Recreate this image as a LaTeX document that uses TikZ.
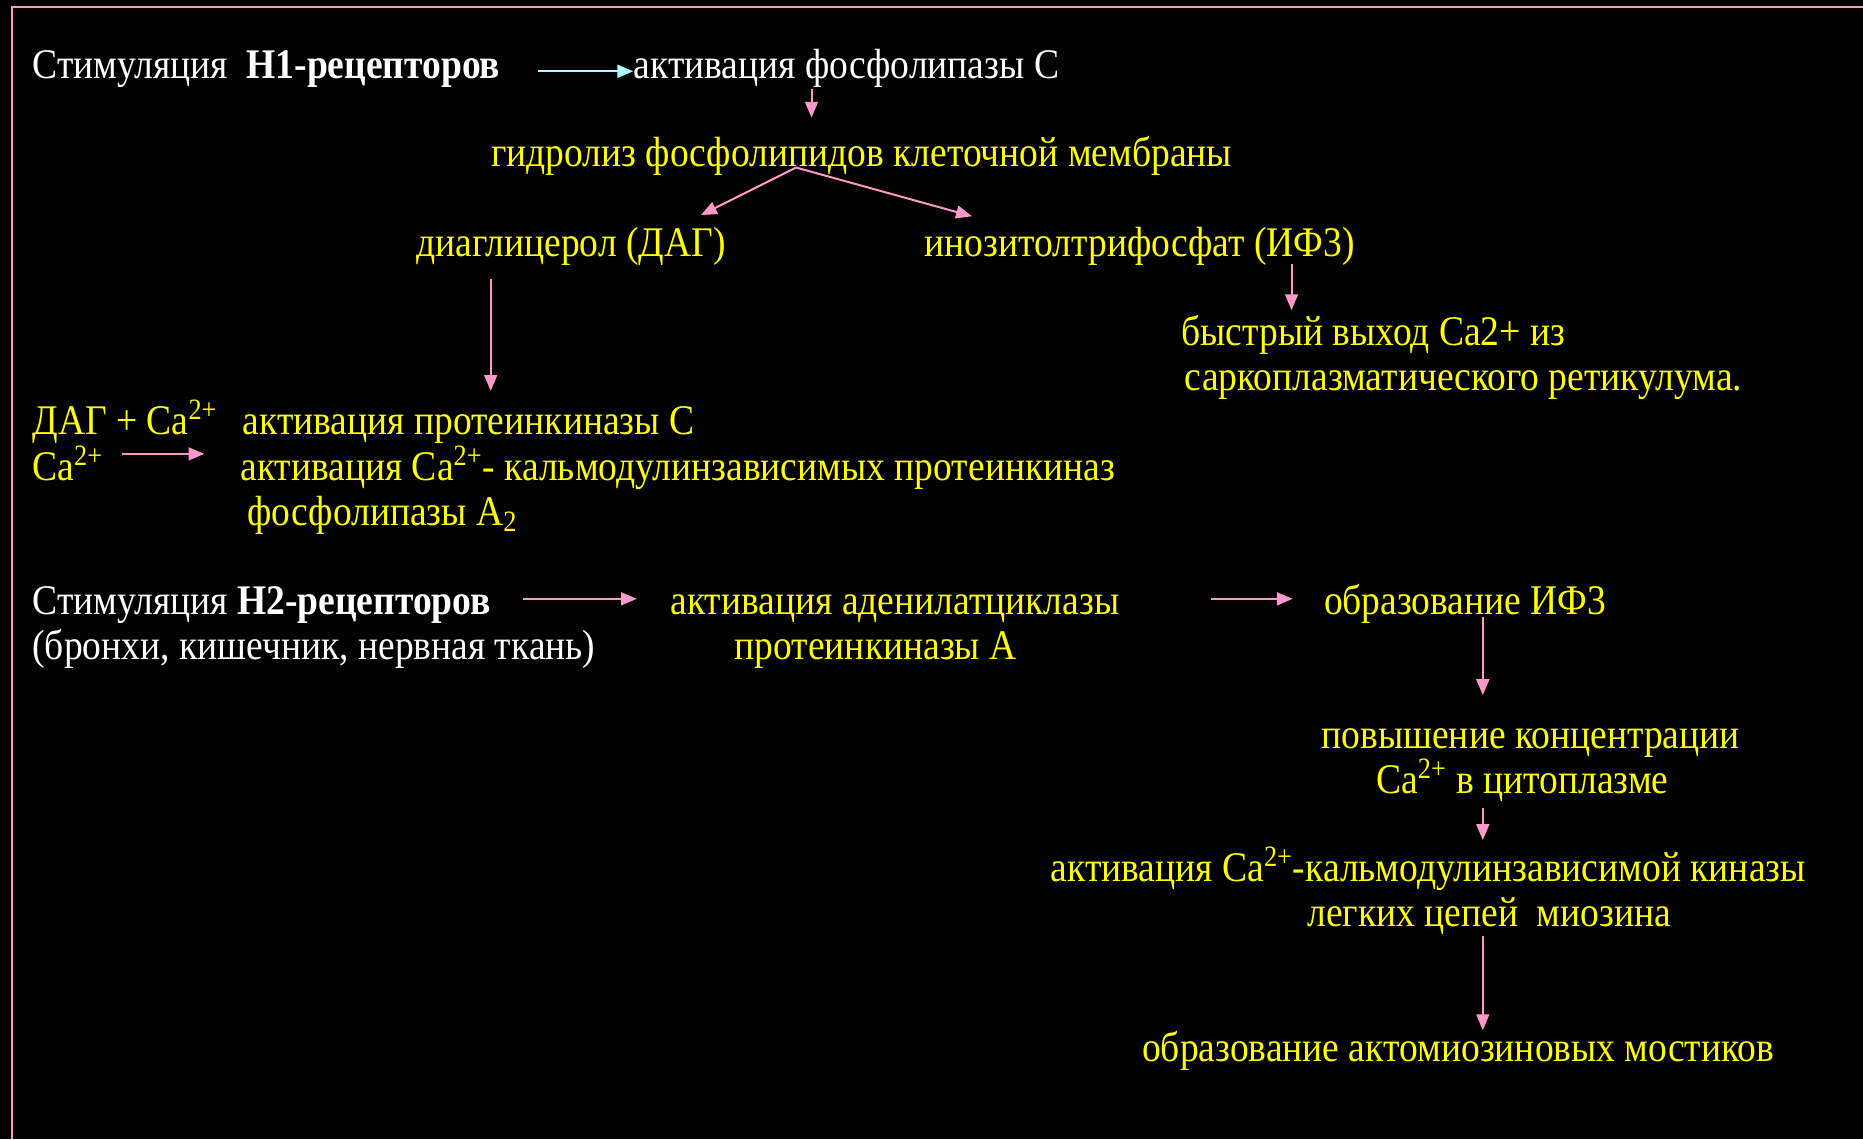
\documentclass[tikz,border=0pt]{standalone}
\usepackage{fontspec}
\setmainfont[FakeStretch=0.89]{Liberation Serif}
\usetikzlibrary{arrows.meta}
\definecolor{pinkc}{HTML}{FF99CC}
\definecolor{cyanc}{HTML}{A8FFFF}
\definecolor{yel}{HTML}{FFFF00}
\begin{document}
\begin{tikzpicture}[x=0.6pt,y=-0.6pt,
  txt/.style={inner sep=0pt, font=\fontsize{21.3}{23}\selectfont, anchor=base west},
  ytxt/.style={txt, text=yel},
  wtxt/.style={txt, text=white},
  arr/.style={draw=pinkc, line width=1pt, -{Triangle[length=8pt,width=6.5pt,fill=pinkc]}},
  carr/.style={draw=cyanc, line width=1pt, -{Triangle[length=8pt,width=6.5pt,fill=cyanc]}}]
\fill[black] (0,0) rectangle (1568,959);
\useasboundingbox (0,0) rectangle (1568,959);
\draw[pinkc, line width=1.2pt] (10,959) -- (10,6) -- (1568,6);

\node[wtxt] (s1) at (27,66) {Стимуляция\ \ \textbf{Н1-рецепторов}};
\node[wtxt] (a1) at (533,66) {активация фосфолипазы С};
\node[ytxt] (g) at (413,140) {гидролиз фосфолипидов клеточной мембраны};
\node[ytxt] (dag) at (350,216) {диаглицерол (ДАГ)};
\node[ytxt] (ip3) at (778,216) {инозитолтрифосфат (ИФ3)};
\node[ytxt] (ca1) at (994,291) {быстрый выход Ca2+ из};
\node[ytxt] (ca2) at (997,329) {саркоплазматического ретикулума.};
\node[ytxt] (dc) at (27,366) {ДАГ + Ca\textsuperscript{2+}};
\node[ytxt] (pkc) at (204,366) {активация протеинкиназы С};
\node[ytxt] (ca) at (27,404) {Ca\textsuperscript{2+}};
\node[ytxt] (cam) at (202,404) {активация Ca\textsuperscript{2+}- кальмодулинзависимых протеинкиназ};
\node[ytxt] (pla) at (208,442) {фосфолипазы А\textsubscript{2}};
\node[wtxt] (s2) at (27,517) {Стимуляция \textbf{Н2-рецепторов}};
\node[wtxt] (s2b) at (27,555) {(бронхи, кишечник, нервная ткань)};
\node[ytxt] (ac) at (564,517) {активация аденилатциклазы};
\node[ytxt] (pka) at (618,555) {протеинкиназы А};
\node[ytxt] (if) at (1114,517) {образование ИФ3};
\node[ytxt] (pc1) at (1112,630) {повышение концентрации};
\node[ytxt] (pc2) at (1158,668) {Ca\textsuperscript{2+} в цитоплазме};
\node[ytxt] (k1) at (884,742) {активация Ca\textsuperscript{2+}-кальмодулинзависимой киназы};
\node[ytxt] (k2) at (1100,780) {легких цепей\ \ миозина};
\node[ytxt] (am) at (961,893) {образование актомиозиновых мостиков};

\coordinate (c1a) at (453,60);  \coordinate (c1b) at (533,60);
\coordinate (c2a) at (683,75);  \coordinate (c2b) at (683,99);
\coordinate (c3a) at (670,141); \coordinate (c3b) at (590,181);
\coordinate (c3c) at (818,182);
\coordinate (c4a) at (1087,222); \coordinate (c4b) at (1087,261);
\coordinate (c5a) at (413,235); \coordinate (c5b) at (413,329);
\coordinate (c6a) at (103,382); \coordinate (c6b) at (172,382);
\coordinate (c7a) at (440,504); \coordinate (c7b) at (536,504);
\coordinate (c8a) at (1019,504); \coordinate (c8b) at (1088,504);
\coordinate (c9a) at (1248,519); \coordinate (c9b) at (1248,585);
\coordinate (c10a) at (1248,680); \coordinate (c10b) at (1248,707);
\coordinate (c11a) at (1248,788); \coordinate (c11b) at (1248,867);

\draw[carr] (c1a) -- (c1b);
\draw[arr] (c2a) -- (c2b);
\draw[arr] (c3a) -- (c3b);
\draw[arr] (c3a) -- (c3c);
\draw[arr] (c4a) -- (c4b);
\draw[arr] (c5a) -- (c5b);
\draw[arr] (c6a) -- (c6b);
\draw[arr] (c7a) -- (c7b);
\draw[arr] (c8a) -- (c8b);
\draw[arr] (c9a) -- (c9b);
\draw[arr] (c10a) -- (c10b);
\draw[arr] (c11a) -- (c11b);
\end{tikzpicture}
\end{document}
